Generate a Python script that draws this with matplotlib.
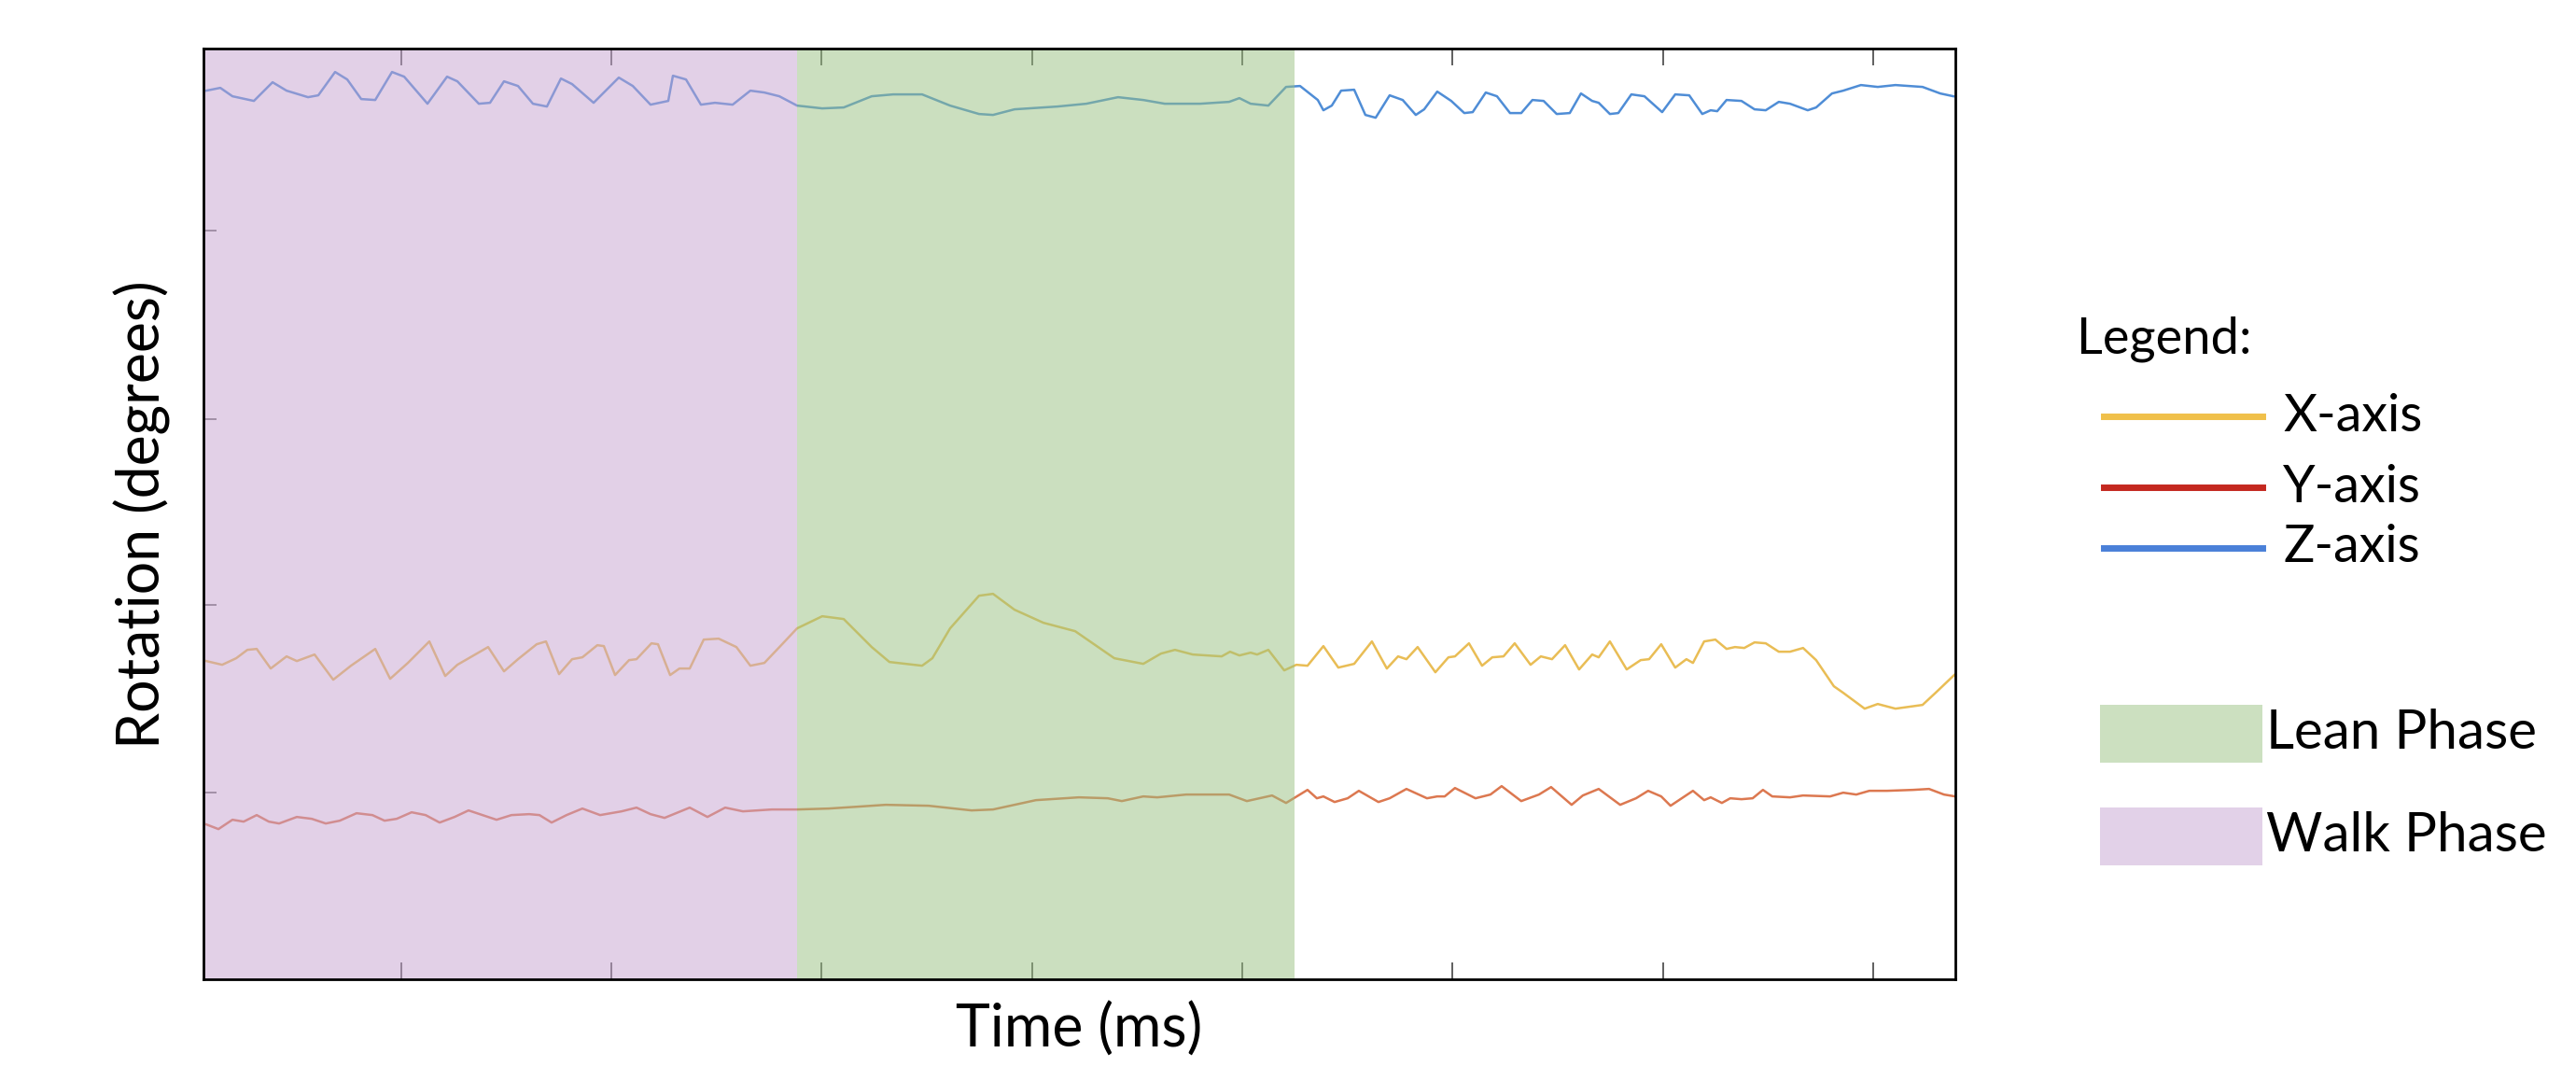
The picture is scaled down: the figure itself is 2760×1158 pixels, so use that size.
#!/usr/bin/env python

import matplotlib.pyplot as plt
import matplotlib.patches as mpatches
from matplotlib.lines import Line2D

plt.rcParams["font.family"] = ["Lato", "DejaVu Sans"]

# phase boundaries (time units)
WALK = (218, 854)
LEAN = (854, 1387)

# Z-axis rotation
z_t = [221, 236, 249, 272, 292, 307, 330, 341, 359, 372, 387, 402, 420, 433, 458, 479, 490, 513,
       525, 540, 555, 571, 586, 601, 613, 636, 663, 678, 697, 716, 721, 735, 751, 766, 785, 804,
       819, 835, 854, 881, 904, 934, 957, 988, 1018, 1049, 1064, 1087, 1133, 1164, 1198, 1225,
       1248, 1286, 1317, 1328, 1340, 1359, 1378, 1393, 1412, 1418, 1427, 1437, 1451, 1463, 1474,
       1489, 1503, 1517, 1526, 1540, 1555, 1569, 1578, 1592, 1604, 1618, 1630, 1642, 1654, 1668,
       1682, 1694, 1706, 1713, 1725, 1734, 1748, 1762, 1781, 1795, 1810, 1824, 1833, 1840, 1850,
       1866, 1880, 1892, 1906, 1918, 1937, 1946, 1963, 1975, 1994, 2012, 2031, 2060, 2079, 2093]
z_v = [952, 955, 946, 941, 961, 952, 945, 947, 972, 964, 943, 942, 972, 967, 938, 967, 962, 938,
       939, 962, 957, 938, 935, 965, 959, 939, 966, 957, 937, 941, 968, 964, 937, 939, 937, 952,
       950, 946, 936, 933, 934, 946, 948, 948, 936, 927, 926, 932, 935, 938, 945, 942,
       938, 938, 940, 944, 938, 936, 956, 957, 942, 931, 936, 952, 953, 926, 923,
       947, 942, 926, 932, 951, 941, 928, 929, 950, 946, 928, 928, 942, 941, 927,
       928, 949, 941, 939, 927, 928, 948, 946, 929, 948, 947, 927, 931, 930, 942,
       941, 932, 931, 940, 938, 931, 934, 949, 952, 958, 956, 958, 956, 949, 946]

# X-axis rotation
x_t = [221, 238, 253, 265, 275, 290, 307, 318, 337, 357, 376, 402, 418, 437, 460, 477, 490, 523,
       540, 555, 575, 585, 599, 613, 624, 640, 647, 659, 674, 682, 698, 705, 718, 728, 739, 754,
       770, 789, 804, 819, 838, 854, 881, 904, 934, 953, 988, 999, 1018, 1049, 1064, 1087, 1118,
       1152, 1194, 1225, 1244, 1259, 1278, 1309, 1318, 1328, 1340, 1347, 1359, 1376, 1389, 1401,
       1418, 1434, 1451, 1470, 1486, 1498, 1507, 1519, 1538, 1552, 1559, 1574, 1588, 1599, 1611,
       1623, 1640, 1651, 1663, 1677, 1692, 1706, 1713, 1725, 1743, 1758, 1767, 1780, 1795, 1807,
       1814, 1826, 1838, 1850, 1859, 1869, 1880, 1892, 1906, 1918, 1932, 1946, 1965, 1975, 1998,
       2012, 2031, 2060, 2074, 2095]
x_v = [341, 337, 344, 353, 354, 333, 346, 341, 348, 321, 336, 354, 322, 339, 362, 325, 337, 356,
       330, 343, 359, 362, 327, 343, 345, 358, 357, 326, 342, 343, 360, 359, 326, 333, 333, 364,
       365, 356, 336, 339, 359, 376, 389, 386, 356, 340, 336, 344, 376, 411, 413, 396, 382,
       373, 344, 338, 349, 353, 348, 346, 351, 347, 350, 348, 353, 331, 337, 336,
       357, 334, 338, 362, 333, 346, 343, 356, 329, 345, 346, 360, 336, 345, 346,
       360, 337, 346, 343, 358, 332, 348, 345, 362, 332, 342, 343, 359, 334, 343,
       339, 362, 364, 354, 356, 355, 361, 360, 351, 351, 355, 342, 314, 307, 290,
       295, 290, 294, 307, 327]

# Y-axis rotation
y_t = [221, 234, 249, 261, 275, 288, 299, 318, 334, 349, 364, 382, 399, 412, 425, 441, 456, 471,
       487, 502, 517, 532, 548, 567, 578, 591, 607, 624, 643, 666, 682, 697, 712, 739, 758, 777,
       796, 827, 854, 888, 919, 949, 995, 1041, 1064, 1110, 1156, 1187, 1202, 1225, 1240, 1271,
       1317, 1336, 1363, 1378, 1401, 1411, 1418, 1430, 1444, 1456, 1477, 1489, 1507, 1529, 1540,
       1548, 1559, 1581, 1597, 1609, 1630, 1649, 1662, 1684, 1696, 1713, 1736, 1753, 1766, 1780,
       1790, 1805, 1814, 1826, 1833, 1845, 1854, 1866, 1878, 1889, 1899, 1918, 1932, 1961, 1975,
       1989, 2003, 2022, 2050, 2067, 2083, 2095]
y_v = [166, 161, 171, 169, 176, 169, 167, 174, 172, 167, 170, 178, 176, 170, 172, 179, 176, 168,
       174, 181, 176, 171, 176, 177, 176, 168, 176, 183, 176, 180, 184, 177, 173, 184, 174, 184,
       180, 182, 182, 183, 185, 187, 186, 181, 182, 192, 195, 194, 191, 196, 195, 198,
       198, 191, 197, 189, 203, 194, 196, 190, 194, 202, 190, 194, 204, 194, 196,
       196, 205, 194, 198, 207, 191, 198, 206, 187, 197, 204, 187, 194, 202, 196,
       186, 196, 202, 192, 195, 189, 194, 193, 194, 203, 196, 195, 197, 196, 200,
       198, 202, 202, 203, 204, 198, 196]

X_TICKS = [430, 655, 880, 1106, 1331, 1556, 1782, 2007]
Y_TICKS = [200, 401, 600, 802]

C_X = "#e9bd55"
C_Y = "#dc7850"
C_Z = "#4f8dd6"

fig = plt.figure(figsize=(27.6, 11.58), dpi=100)
ax = fig.add_axes([0.079, 0.094, 0.680, 0.861])

ax.plot(x_t, x_v, color=C_X, lw=1.8, zorder=1)
ax.plot(y_t, y_v, color=C_Y, lw=1.8, zorder=1)
ax.plot(z_t, z_v, color=C_Z, lw=1.8, zorder=1)

# phases drawn over the lines, semi-transparent
ax.axvspan(*WALK, color="#c7a3d1", alpha=0.5, lw=0, zorder=2)
ax.axvspan(*LEAN, color="#99c181", alpha=0.5, lw=0, zorder=2)

ax.set_xlim(218, 2095)
ax.set_ylim(0, 997)
ax.set_xticks(X_TICKS)
ax.set_yticks(Y_TICKS)
ax.set_xticklabels([])
ax.set_yticklabels([])
ax.tick_params(axis="x", direction="in", length=13, width=1.2, color="#444444", top=True)
ax.tick_params(axis="y", direction="in", length=10, width=1.2, color="#666666")
for s in ax.spines.values():
    s.set_linewidth(2)

ax.set_xlabel("Time (ms)", fontsize=45, labelpad=14)
ax.set_ylabel("Rotation (degrees)", fontsize=45, labelpad=22)

# custom legend
fig.text(0.806, 1 - 363 / 1158, "Legend:", fontsize=39, va="center", ha="left")
for yy, lab, c in [(446, "X-axis", "#f0c04a"), (522, "Y-axis", "#c4281f"), (587, "Z-axis", "#4a80d8")]:
    yf = 1 - yy / 1158
    fig.add_artist(Line2D([2254 / 2760, 2424 / 2760], [yf, yf], color=c, lw=5))
    fig.text(2446 / 2760, yf, lab, fontsize=40, va="center", ha="left")

for y0, lab, c in [(755, "Lean Phase", "#cce0c0"), (865, "Walk Phase", "#e2d1e8")]:
    fig.add_artist(mpatches.Rectangle((2250 / 2760, 1 - (y0 + 62) / 1158), 174 / 2760, 62 / 1158,
                                      color=c, lw=0, transform=fig.transFigure))
    fig.text(2428 / 2760, 1 - (y0 + 31) / 1158, lab, fontsize=42, va="center", ha="left")

fig.savefig("out.png", dpi=100)
